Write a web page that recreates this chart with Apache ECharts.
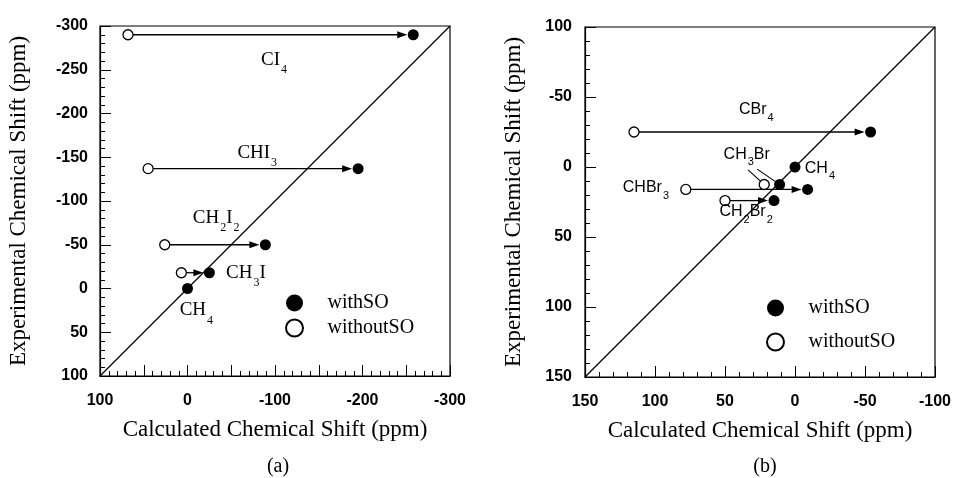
<!DOCTYPE html>
<html>
<head>
<meta charset="utf-8">
<script src="https://cdn.jsdelivr.net/npm/echarts@6/dist/echarts.min.js"></script>
<style>
html,body{margin:0;padding:0;background:#fff;}
#chart{width:959px;height:478px;}
</style>
</head>
<body>
<div id="chart"></div>
<script>
// ---------- DATA (panel a) ----------
var catsA = ['CI4', 'CHI3', 'CH2I2', 'CH3I', 'CH4'];
var withSOA = [-258, -195, -89, -25, 0];          // calculated shift with SO
var withoutSOA = [68, 45, 26, 7, null];           // calculated shift without SO
var expA = [-290, -137, -50, -18, 0];             // experimental shift
var arrowA = [true, true, true, true, false];
var diagA = [[100, 100], [-300, -300]];
var xTickLabelsA = [100, 0, -100, -200, -300];

// ---------- DATA (panel b) ----------
var catsB = ['CBr4', 'CH4', 'CHBr3', 'CH3Br', 'CH2Br2'];
var withSOB = [-54, 0, -9, 11, 15];
var withoutSOB = [115, null, 78, 22, 50];
var expB = [-25, 0, 16, 12.5, 24];
var arrowB = [true, false, true, false, true];
var diagB = [[150, 150], [-100, -100]];
var yTickValuesB = [-100, -50, 0, 50, 100, 150];
var yTickLabelsB = ['100', '-50', '0', '50', '100', '150'];

// ---------- annotation anchors (text positions, data units) ----------
var labelPosA = [[-84, -261], [-57, -155], [-6, -81], [-44, -18], [9, 25]];
var labelPosB = [[40, -41], [-7, 1], [123, 15], [51, -9], [54, 32]];
var leaderB = [[33.5, 2, 22, 12.5], [27, 1.5, 11, 12.5]];

function pts(xs, ys) {
  var out = [];
  for (var i = 0; i < xs.length; i++) if (xs[i] !== null) out.push([xs[i], ys[i]]);
  return out;
}
function arrowData(x0, x1, ys, flags) {
  var out = [];
  for (var i = 0; i < ys.length; i++) if (flags[i] && x0[i] !== null) out.push([x0[i], x1[i], ys[i]]);
  return out;
}
function richName(n) {
  return n.match(/\d+|\D+/g).map(function (t) { return /\d/.test(t) ? '{s|' + t + '}' : '{m|' + t + '}'; }).join('');
}
function labelData(pos, cats) {
  return pos.map(function (p, i) { return { value: p, name: cats[i] }; });
}

function arrowRender(params, api) {
  var p0 = api.coord([api.value(0), api.value(2)]);
  var p1 = api.coord([api.value(1), api.value(2)]);
  var dir = p1[0] > p0[0] ? 1 : -1;
  var sx = p0[0] + dir * 5;
  var tip = p1[0] - dir * 6;
  var hl = 10, hw = 3.5;
  return {
    type: 'group',
    children: [
      { type: 'line', shape: { x1: sx, y1: p0[1], x2: tip - dir * hl + dir * 1, y2: p1[1] }, style: { stroke: '#000', lineWidth: 1.3 } },
      { type: 'polygon', shape: { points: [[tip, p1[1]], [tip - dir * hl, p1[1] - hw], [tip - dir * hl, p1[1] + hw]] }, style: { fill: '#000' } }
    ]
  };
}
function leaderRender(params, api) {
  var p0 = api.coord([api.value(0), api.value(1)]);
  var p1 = api.coord([api.value(2), api.value(3)]);
  var dx = p1[0] - p0[0], dy = p1[1] - p0[1];
  var L = Math.sqrt(dx * dx + dy * dy);
  var r = 5.5;
  return { type: 'line', shape: { x1: p0[0], y1: p0[1], x2: p1[0] - dx / L * r, y2: p1[1] - dy / L * r }, style: { stroke: '#000', lineWidth: 1.1 } };
}

var tickFont = { fontFamily: 'Liberation Sans', fontSize: 16, fontWeight: 'bold', color: '#000' };
var nameFont = { fontFamily: 'Liberation Serif', fontSize: 23, color: '#000' };

function axisCommon(extra) {
  var base = {
    type: 'value',
    inverse: true,
    interval: 50,
    axisLine: { show: true, onZero: false, lineStyle: { color: '#000', width: 1.2 } },
    axisTick: { show: true, inside: true, length: 11, lineStyle: { color: '#000', width: 1 } },
    minorTick: { show: true, splitNumber: 5, length: 5, lineStyle: { color: '#000', width: 1 } },
    splitLine: { show: false },
    minorSplitLine: { show: false },
    nameLocation: 'middle',
    nameTextStyle: nameFont
  };
  for (var k in extra) base[k] = extra[k];
  return base;
}

var richA = {
  m: { fontFamily: 'Liberation Serif', fontSize: 19, color: '#000', lineHeight: 20 },
  s: { fontFamily: 'Liberation Serif', fontSize: 12, color: '#000', padding: [20, 0, 0, 1], lineHeight: 12 }
};
var richB = {
  m: { fontFamily: 'Liberation Sans', fontSize: 16, color: '#000', lineHeight: 18 },
  s: { fontFamily: 'Liberation Sans', fontSize: 11, color: '#000', padding: [16, 0, 0, 1], lineHeight: 11 }
};

function labelSeries(xi, pos, cats, rich) {
  return {
    type: 'scatter', xAxisIndex: xi, yAxisIndex: xi, silent: true, z: 6,
    symbolSize: 0, itemStyle: { color: 'transparent' },
    data: labelData(pos, cats),
    label: {
      show: true, position: 'right', distance: 0, align: 'left', verticalAlign: 'middle',
      color: '#000', opacity: 1,
      formatter: function (p) { return richName(p.name); },
      rich: rich
    }
  };
}

var chart = echarts.init(document.getElementById('chart'), null, { renderer: 'canvas' });
chart.setOption({
  backgroundColor: '#fff',
  animation: false,
  title: [
    { text: '(a)', left: 273, top: 452, textAlign: 'center', textStyle: { fontFamily: 'Liberation Serif', fontSize: 20, fontWeight: 'normal', color: '#000' } },
    { text: '(b)', left: 760, top: 452, textAlign: 'center', textStyle: { fontFamily: 'Liberation Serif', fontSize: 20, fontWeight: 'normal', color: '#000' } }
  ],
  legend: [
    {
      left: 280, top: 288, orient: 'vertical', itemWidth: 56, itemHeight: 17, itemGap: 5,
      selectedMode: false,
      data: [{ name: 'withSO', icon: 'circle' }, { name: 'withoutSO', icon: 'circle' }],
      textStyle: { fontFamily: 'Liberation Serif', fontSize: 20, color: '#000' }
    },
    {
      left: 761, top: 293, orient: 'vertical', itemWidth: 56, itemHeight: 17, itemGap: 14,
      selectedMode: false,
      data: [{ name: 'withSO', icon: 'circle' }, { name: 'withoutSO', icon: 'circle' }],
      textStyle: { fontFamily: 'Liberation Serif', fontSize: 20, color: '#000' }
    }
  ],
  grid: [
    { left: 100, top: 26, width: 350, height: 350, show: true, borderColor: '#000', borderWidth: 1.2 },
    { left: 585, top: 27, width: 350, height: 350, show: true, borderColor: '#000', borderWidth: 1.2 }
  ],
  xAxis: [
    axisCommon({
      gridIndex: 0, min: -300, max: 100,
      name: 'Calculated Chemical Shift (ppm)', nameGap: 42,
      axisLabel: Object.assign({ margin: 17, formatter: function (v) { return xTickLabelsA.indexOf(v) >= 0 ? String(v) : ''; } }, tickFont)
    }),
    axisCommon({
      gridIndex: 1, min: -100, max: 150,
      name: 'Calculated Chemical Shift (ppm)', nameGap: 42,
      axisLabel: Object.assign({ margin: 17 }, tickFont)
    })
  ],
  yAxis: [
    axisCommon({
      gridIndex: 0, min: -300, max: 100,
      name: 'Experimental Chemical Shift (ppm)', nameGap: 70,
      axisLabel: Object.assign({ margin: 12 }, tickFont)
    }),
    axisCommon({
      gridIndex: 1, min: -100, max: 150,
      name: 'Experimental Chemical Shift (ppm)', nameGap: 60,
      axisLabel: Object.assign({ margin: 13, formatter: function (v) { var i = yTickValuesB.indexOf(v); return i >= 0 ? yTickLabelsB[i] : ''; } }, tickFont)
    })
  ],
  series: [
    // panel a
    { type: 'line', xAxisIndex: 0, yAxisIndex: 0, data: diagA, showSymbol: false, silent: true, lineStyle: { color: '#000', width: 1.2 }, z: 2 },
    { type: 'custom', xAxisIndex: 0, yAxisIndex: 0, renderItem: arrowRender, data: arrowData(withoutSOA, withSOA, expA, arrowA), encode: { x: [0, 1], y: 2 }, silent: true, z: 3 },
    { name: 'withSO', type: 'scatter', xAxisIndex: 0, yAxisIndex: 0, data: pts(withSOA, expA), symbol: 'circle', symbolSize: 11, itemStyle: { color: '#000', opacity: 1 }, z: 5 },
    { name: 'withoutSO', type: 'scatter', xAxisIndex: 0, yAxisIndex: 0, data: pts(withoutSOA, expA), symbol: 'circle', symbolSize: 10, itemStyle: { color: '#fff', borderColor: '#000', borderWidth: 1.3, opacity: 1 }, z: 5 },
    labelSeries(0, labelPosA, catsA, richA),
    // panel b
    { type: 'line', xAxisIndex: 1, yAxisIndex: 1, data: diagB, showSymbol: false, silent: true, lineStyle: { color: '#000', width: 1.2 }, z: 2 },
    { type: 'custom', xAxisIndex: 1, yAxisIndex: 1, renderItem: arrowRender, data: arrowData(withoutSOB, withSOB, expB, arrowB), encode: { x: [0, 1], y: 2 }, silent: true, z: 3 },
    { type: 'custom', xAxisIndex: 1, yAxisIndex: 1, renderItem: leaderRender, data: leaderB, encode: { x: [0, 2], y: [1, 3] }, silent: true, z: 3 },
    { name: 'withSO', type: 'scatter', xAxisIndex: 1, yAxisIndex: 1, data: pts(withSOB, expB), symbol: 'circle', symbolSize: 11, itemStyle: { color: '#000', opacity: 1 }, z: 5 },
    { name: 'withoutSO', type: 'scatter', xAxisIndex: 1, yAxisIndex: 1, data: pts(withoutSOB, expB), symbol: 'circle', symbolSize: 10, itemStyle: { color: '#fff', borderColor: '#000', borderWidth: 1.3, opacity: 1 }, z: 4 },
    labelSeries(1, labelPosB, catsB, richB)
  ]
});
</script>
</body>
</html>
